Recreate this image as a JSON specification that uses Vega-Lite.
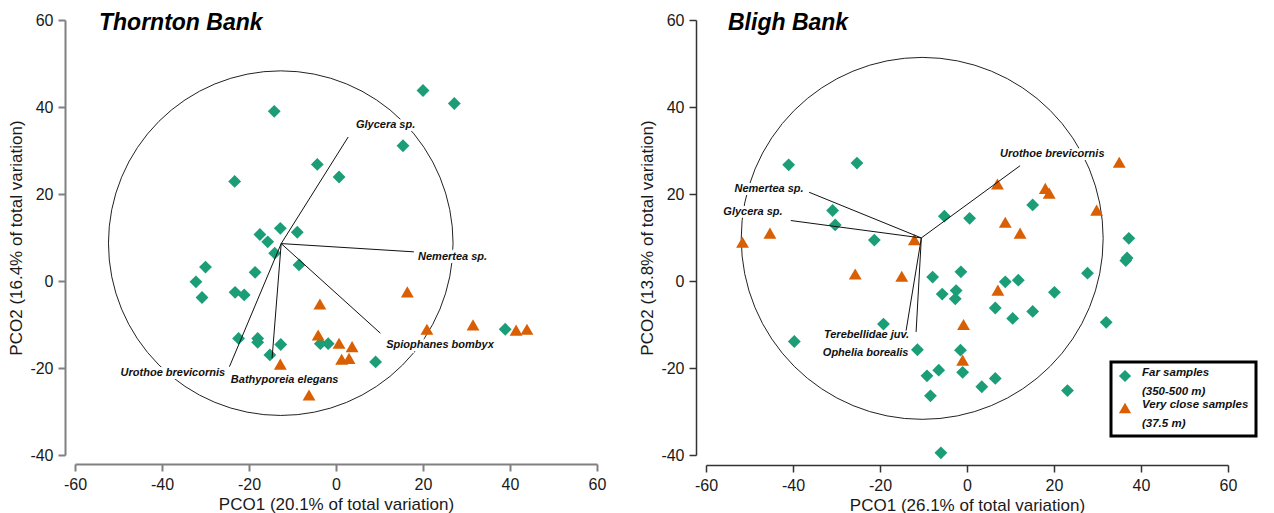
{
  "$schema": "https://vega.github.io/schema/vega-lite/v6.json",
  "background": "white",
  "padding": {"left": 7, "top": 12, "right": 0, "bottom": 0},
  "spacing": 109,
  "bounds": "flush",
  "config": {
    "view": {"stroke": null},
    "font": "Liberation Sans",
    "style": {"guide-label": {"lineHeight": 18.5}},
    "legend": {"strokeWidth": 3},
    "axis": {
      "grid": false,
      "labelFont": "Liberation Sans",
      "labelFontSize": 16,
      "labelColor": "#1a1a1a",
      "labelFlush": false,
      "titleFont": "Liberation Sans",
      "titleFontSize": 17,
      "titleFontWeight": "normal",
      "titleColor": "#1a1a1a",
      "tickSize": 7,
      "labelPadding": 5,
      "titlePadding": 4,
      "labelExpr": "'' + datum.value"
    },
    "title": {
      "font": "Liberation Sans",
      "fontSize": 23,
      "fontStyle": "italic",
      "fontWeight": "bold",
      "color": "#000000",
      "anchor": "start",
      "frame": "group"
    }
  },
  "datasets": {
    "thornton_circle": [{"cx": -12.7, "cy": 8.7}],
    "bligh_circle": [{"cx": -10.3, "cy": 9.8}],
    "thornton_vectors": [
      {"species": "Glycera sp.", "ox": -12.6, "oy": 8.6, "ex": 2.8, "ey": 33.1, "lx": 11.4, "ly": 35.9},
      {"species": "Nemertea sp.", "ox": -12.6, "oy": 8.6, "ex": 17.9, "ey": 6.7, "lx": 26.8, "ly": 5.6},
      {"species": "Spiophanes bombyx", "ox": -12.6, "oy": 8.6, "ex": 10.2, "ey": -12.0, "lx": 23.9, "ly": -14.7},
      {"species": "Urothoe brevicornis", "ox": -12.6, "oy": 8.6, "ex": -24.5, "ey": -19.7, "lx": -37.5, "ly": -21.2},
      {"species": "Bathyporeia elegans", "ox": -12.6, "oy": 8.6, "ex": -14.7, "ey": -17.8, "lx": -11.8, "ly": -22.8}
    ],
    "bligh_vectors": [
      {"species": "Nemertea sp.", "ox": -10.5, "oy": 9.9, "ex": -36.3, "ey": 20.4, "lx": -45.5, "ly": 21.2},
      {"species": "Glycera sp.", "ox": -10.5, "oy": 9.9, "ex": -40.5, "ey": 13.9, "lx": -49.2, "ly": 15.8},
      {"species": "Terebellidae juv.", "ox": -10.5, "oy": 9.9, "ex": -14.0, "ey": -11.4, "lx": -23.1, "ly": -12.3},
      {"species": "Ophelia borealis", "ox": -10.5, "oy": 9.9, "ex": -11.7, "ey": -11.7, "lx": -23.3, "ly": -16.5},
      {"species": "Urothoe brevicornis", "ox": -10.5, "oy": 9.9, "ex": 12.2, "ey": 26.5, "lx": 19.6, "ly": 29.1}
    ],
    "thornton_points": [
      {"x": -14.2, "y": 39.0, "group": "Far samples (350-500 m)"},
      {"x": -23.3, "y": 22.9, "group": "Far samples (350-500 m)"},
      {"x": -4.3, "y": 26.8, "group": "Far samples (350-500 m)"},
      {"x": 20.0, "y": 43.8, "group": "Far samples (350-500 m)"},
      {"x": 27.2, "y": 40.8, "group": "Far samples (350-500 m)"},
      {"x": 15.4, "y": 31.1, "group": "Far samples (350-500 m)"},
      {"x": 0.7, "y": 23.9, "group": "Far samples (350-500 m)"},
      {"x": -12.8, "y": 12.1, "group": "Far samples (350-500 m)"},
      {"x": -8.9, "y": 11.2, "group": "Far samples (350-500 m)"},
      {"x": -17.5, "y": 10.7, "group": "Far samples (350-500 m)"},
      {"x": -15.7, "y": 9.0, "group": "Far samples (350-500 m)"},
      {"x": -14.1, "y": 6.4, "group": "Far samples (350-500 m)"},
      {"x": -8.5, "y": 3.7, "group": "Far samples (350-500 m)"},
      {"x": -30.0, "y": 3.2, "group": "Far samples (350-500 m)"},
      {"x": -32.2, "y": -0.2, "group": "Far samples (350-500 m)"},
      {"x": -30.8, "y": -3.8, "group": "Far samples (350-500 m)"},
      {"x": -18.6, "y": 2.0, "group": "Far samples (350-500 m)"},
      {"x": -23.2, "y": -2.6, "group": "Far samples (350-500 m)"},
      {"x": -21.1, "y": -3.2, "group": "Far samples (350-500 m)"},
      {"x": -22.4, "y": -13.2, "group": "Far samples (350-500 m)"},
      {"x": -18.0, "y": -13.2, "group": "Far samples (350-500 m)"},
      {"x": -18.0, "y": -14.1, "group": "Far samples (350-500 m)"},
      {"x": -12.7, "y": -14.6, "group": "Far samples (350-500 m)"},
      {"x": -15.2, "y": -17.0, "group": "Far samples (350-500 m)"},
      {"x": -3.6, "y": -14.4, "group": "Far samples (350-500 m)"},
      {"x": -1.8, "y": -14.4, "group": "Far samples (350-500 m)"},
      {"x": 9.1, "y": -18.6, "group": "Far samples (350-500 m)"},
      {"x": 38.9, "y": -11.1, "group": "Far samples (350-500 m)"},
      {"x": -3.7, "y": -5.3, "group": "Very close samples (37.5 m)"},
      {"x": 16.4, "y": -2.5, "group": "Very close samples (37.5 m)"},
      {"x": -4.1, "y": -12.4, "group": "Very close samples (37.5 m)"},
      {"x": 0.7, "y": -14.3, "group": "Very close samples (37.5 m)"},
      {"x": 3.7, "y": -15.1, "group": "Very close samples (37.5 m)"},
      {"x": 1.3, "y": -18.0, "group": "Very close samples (37.5 m)"},
      {"x": 3.0, "y": -17.8, "group": "Very close samples (37.5 m)"},
      {"x": -12.8, "y": -19.1, "group": "Very close samples (37.5 m)"},
      {"x": -6.2, "y": -26.2, "group": "Very close samples (37.5 m)"},
      {"x": 20.9, "y": -11.1, "group": "Very close samples (37.5 m)"},
      {"x": 31.5, "y": -10.1, "group": "Very close samples (37.5 m)"},
      {"x": 41.4, "y": -11.3, "group": "Very close samples (37.5 m)"},
      {"x": 43.9, "y": -11.1, "group": "Very close samples (37.5 m)"}
    ],
    "bligh_points": [
      {"x": -41.0, "y": 26.7, "group": "Far samples (350-500 m)"},
      {"x": -25.3, "y": 27.1, "group": "Far samples (350-500 m)"},
      {"x": -30.9, "y": 16.2, "group": "Far samples (350-500 m)"},
      {"x": -30.3, "y": 12.9, "group": "Far samples (350-500 m)"},
      {"x": -21.3, "y": 9.4, "group": "Far samples (350-500 m)"},
      {"x": -5.2, "y": 14.9, "group": "Far samples (350-500 m)"},
      {"x": 0.6, "y": 14.4, "group": "Far samples (350-500 m)"},
      {"x": -7.9, "y": 0.9, "group": "Far samples (350-500 m)"},
      {"x": -1.4, "y": 2.1, "group": "Far samples (350-500 m)"},
      {"x": -5.7, "y": -3.0, "group": "Far samples (350-500 m)"},
      {"x": -2.5, "y": -2.2, "group": "Far samples (350-500 m)"},
      {"x": -2.7, "y": -4.1, "group": "Far samples (350-500 m)"},
      {"x": 6.5, "y": -6.2, "group": "Far samples (350-500 m)"},
      {"x": -19.2, "y": -9.9, "group": "Far samples (350-500 m)"},
      {"x": -39.7, "y": -13.9, "group": "Far samples (350-500 m)"},
      {"x": -11.4, "y": -15.8, "group": "Far samples (350-500 m)"},
      {"x": -1.5, "y": -15.9, "group": "Far samples (350-500 m)"},
      {"x": -9.2, "y": -21.8, "group": "Far samples (350-500 m)"},
      {"x": -6.5, "y": -20.5, "group": "Far samples (350-500 m)"},
      {"x": -1.0, "y": -21.0, "group": "Far samples (350-500 m)"},
      {"x": 3.4, "y": -24.3, "group": "Far samples (350-500 m)"},
      {"x": -8.4, "y": -26.4, "group": "Far samples (350-500 m)"},
      {"x": 6.5, "y": -22.4, "group": "Far samples (350-500 m)"},
      {"x": 15.1, "y": 17.5, "group": "Far samples (350-500 m)"},
      {"x": 37.2, "y": 9.8, "group": "Far samples (350-500 m)"},
      {"x": 36.5, "y": 4.7, "group": "Far samples (350-500 m)"},
      {"x": 36.8, "y": 5.3, "group": "Far samples (350-500 m)"},
      {"x": 27.7, "y": 1.8, "group": "Far samples (350-500 m)"},
      {"x": 20.1, "y": -2.6, "group": "Far samples (350-500 m)"},
      {"x": 32.0, "y": -9.5, "group": "Far samples (350-500 m)"},
      {"x": 8.8, "y": -0.2, "group": "Far samples (350-500 m)"},
      {"x": 11.8, "y": 0.2, "group": "Far samples (350-500 m)"},
      {"x": 10.5, "y": -8.6, "group": "Far samples (350-500 m)"},
      {"x": 15.1, "y": -7.0, "group": "Far samples (350-500 m)"},
      {"x": 23.1, "y": -25.2, "group": "Far samples (350-500 m)"},
      {"x": -6.0, "y": -39.5, "group": "Far samples (350-500 m)"},
      {"x": -51.6, "y": 8.9, "group": "Very close samples (37.5 m)"},
      {"x": -45.3, "y": 11.0, "group": "Very close samples (37.5 m)"},
      {"x": -12.1, "y": 9.5, "group": "Very close samples (37.5 m)"},
      {"x": -25.7, "y": 1.6, "group": "Very close samples (37.5 m)"},
      {"x": -15.0, "y": 1.1, "group": "Very close samples (37.5 m)"},
      {"x": 7.0, "y": 22.3, "group": "Very close samples (37.5 m)"},
      {"x": 18.0, "y": 21.3, "group": "Very close samples (37.5 m)"},
      {"x": 18.9, "y": 20.2, "group": "Very close samples (37.5 m)"},
      {"x": 35.0, "y": 27.3, "group": "Very close samples (37.5 m)"},
      {"x": 29.8, "y": 16.3, "group": "Very close samples (37.5 m)"},
      {"x": 8.8, "y": 13.5, "group": "Very close samples (37.5 m)"},
      {"x": 12.2, "y": 11.0, "group": "Very close samples (37.5 m)"},
      {"x": 7.1, "y": -2.1, "group": "Very close samples (37.5 m)"},
      {"x": -0.8, "y": -10.0, "group": "Very close samples (37.5 m)"},
      {"x": -1.0, "y": -18.2, "group": "Very close samples (37.5 m)"}
    ]
  },
  "resolve": {
    "scale": {"x": "independent", "y": "independent", "color": "independent", "shape": "independent"},
    "legend": {"color": "independent", "shape": "independent"}
  },
  "hconcat": [
    {
      "width": 522,
      "height": 435,
      "title": {"text": "Thornton Bank", "offset": -23, "dx": 24},
      "layer": [
        {
          "data": {"name": "thornton_circle"},
          "mark": {"type": "point", "shape": "circle", "filled": false, "size": 118750, "stroke": "#222222", "strokeWidth": 1, "opacity": 1},
          "encoding": {
            "x": {"field": "cx", "type": "quantitative", "title": "PCO1 (20.1% of total variation)",
                  "scale": {"domain": [-60, 60], "nice": false, "zero": false},
                  "axis": {"values": [-60, -40, -20, 0, 20, 40, 60], "offset": 9, "domainColor": "#808080", "tickColor": "#808080", "domainWidth": 2, "tickWidth": 2}},
            "y": {"field": "cy", "type": "quantitative", "title": "PCO2 (16.4% of total variation)",
                  "scale": {"domain": [-40, 60], "nice": false, "zero": false},
                  "axis": {"values": [-40, -20, 0, 20, 40, 60], "offset": 10, "domainColor": "#808080", "tickColor": "#808080", "domainWidth": 2, "tickWidth": 2}}
          }
        },
        {
          "data": {"name": "thornton_vectors"},
          "mark": {"type": "text", "font": "Liberation Sans", "fontSize": 11, "fontStyle": "italic", "fontWeight": "bold", "stroke": "white", "strokeWidth": 6, "fill": "white", "align": "center", "baseline": "middle"},
          "encoding": {
            "x": {"field": "lx", "type": "quantitative", "title": "PCO1 (20.1% of total variation)"},
            "y": {"field": "ly", "type": "quantitative", "title": "PCO2 (16.4% of total variation)"},
            "text": {"field": "species"}
          }
        },
        {
          "data": {"name": "thornton_points"},
          "mark": {"type": "point", "filled": true, "size": 165, "opacity": 1},
          "encoding": {
            "x": {"field": "x", "type": "quantitative", "title": "PCO1 (20.1% of total variation)"},
            "y": {"field": "y", "type": "quantitative", "title": "PCO2 (16.4% of total variation)"},
            "color": {"field": "group", "type": "nominal",
                      "scale": {"domain": ["Far samples (350-500 m)", "Very close samples (37.5 m)"], "range": ["#1b9e77", "#d95f02"]},
                      "legend": null},
            "shape": {"field": "group", "type": "nominal",
                      "scale": {"domain": ["Far samples (350-500 m)", "Very close samples (37.5 m)"], "range": ["diamond", "triangle-up"]},
                      "legend": null}
          }
        },
        {
          "data": {"name": "thornton_vectors"},
          "mark": {"type": "rule", "color": "#111111", "strokeWidth": 1},
          "encoding": {
            "x": {"field": "ox", "type": "quantitative", "title": "PCO1 (20.1% of total variation)"},
            "y": {"field": "oy", "type": "quantitative", "title": "PCO2 (16.4% of total variation)"},
            "x2": {"field": "ex"},
            "y2": {"field": "ey"}
          }
        },
        {
          "data": {"name": "thornton_vectors"},
          "mark": {"type": "text", "font": "Liberation Sans", "fontSize": 11, "fontStyle": "italic", "fontWeight": "bold", "color": "#111111", "align": "center", "baseline": "middle"},
          "encoding": {
            "x": {"field": "lx", "type": "quantitative", "title": "PCO1 (20.1% of total variation)"},
            "y": {"field": "ly", "type": "quantitative", "title": "PCO2 (16.4% of total variation)"},
            "text": {"field": "species"}
          }
        }
      ]
    },
    {
      "width": 522,
      "height": 435,
      "title": {"text": "Bligh Bank", "offset": -23, "dx": 22},
      "layer": [
        {
          "data": {"name": "bligh_circle"},
          "mark": {"type": "point", "shape": "circle", "filled": false, "size": 131000, "stroke": "#222222", "strokeWidth": 1, "opacity": 1},
          "encoding": {
            "x": {"field": "cx", "type": "quantitative", "title": "PCO1 (26.1% of total variation)",
                  "scale": {"domain": [-60, 60], "nice": false, "zero": false},
                  "axis": {"values": [-60, -40, -20, 0, 20, 40, 60], "offset": 10, "domainColor": "#333333", "tickColor": "#333333", "domainWidth": 1.5, "tickWidth": 1.5}},
            "y": {"field": "cy", "type": "quantitative", "title": "PCO2 (13.8% of total variation)",
                  "scale": {"domain": [-40, 60], "nice": false, "zero": false},
                  "axis": {"values": [-40, -20, 0, 20, 40, 60], "offset": 10, "domainColor": "#333333", "tickColor": "#333333", "domainWidth": 1.5, "tickWidth": 1.5}}
          }
        },
        {
          "data": {"name": "bligh_vectors"},
          "mark": {"type": "text", "font": "Liberation Sans", "fontSize": 11, "fontStyle": "italic", "fontWeight": "bold", "stroke": "white", "strokeWidth": 6, "fill": "white", "align": "center", "baseline": "middle"},
          "encoding": {
            "x": {"field": "lx", "type": "quantitative", "title": "PCO1 (26.1% of total variation)"},
            "y": {"field": "ly", "type": "quantitative", "title": "PCO2 (13.8% of total variation)"},
            "text": {"field": "species"}
          }
        },
        {
          "data": {"name": "bligh_points"},
          "mark": {"type": "point", "filled": true, "size": 165, "opacity": 1},
          "encoding": {
            "x": {"field": "x", "type": "quantitative", "title": "PCO1 (26.1% of total variation)"},
            "y": {"field": "y", "type": "quantitative", "title": "PCO2 (13.8% of total variation)"},
            "color": {"field": "group", "type": "nominal",
                      "scale": {"domain": ["Far samples (350-500 m)", "Very close samples (37.5 m)"], "range": ["#1b9e77", "#d95f02"]},
                      "legend": {"orient": "none", "legendX": 405, "legendY": 342, "title": null,
                                 "labelExpr": "split(replace(datum.label, ' (', '|('), '|')",
                                 "labelFont": "Liberation Sans", "labelFontSize": 11.5, "labelFontStyle": "italic", "labelFontWeight": "bold", "labelColor": "#111111",
                                 "labelBaseline": "alphabetic", "labelOffset": 10,
                                 "symbolSize": 150, "strokeColor": "#000000", "fillColor": "white", "padding": 7, "rowPadding": 2}},
            "shape": {"field": "group", "type": "nominal",
                      "scale": {"domain": ["Far samples (350-500 m)", "Very close samples (37.5 m)"], "range": ["diamond", "triangle-up"]},
                      "legend": {"orient": "none", "legendX": 405, "legendY": 342, "title": null,
                                 "labelExpr": "split(replace(datum.label, ' (', '|('), '|')",
                                 "labelFont": "Liberation Sans", "labelFontSize": 11.5, "labelFontStyle": "italic", "labelFontWeight": "bold", "labelColor": "#111111",
                                 "labelBaseline": "alphabetic", "labelOffset": 10,
                                 "symbolSize": 150, "strokeColor": "#000000", "fillColor": "white", "padding": 7, "rowPadding": 2}}
          }
        },
        {
          "data": {"name": "bligh_vectors"},
          "mark": {"type": "rule", "color": "#111111", "strokeWidth": 1},
          "encoding": {
            "x": {"field": "ox", "type": "quantitative", "title": "PCO1 (26.1% of total variation)"},
            "y": {"field": "oy", "type": "quantitative", "title": "PCO2 (13.8% of total variation)"},
            "x2": {"field": "ex"},
            "y2": {"field": "ey"}
          }
        },
        {
          "data": {"name": "bligh_vectors"},
          "mark": {"type": "text", "font": "Liberation Sans", "fontSize": 11, "fontStyle": "italic", "fontWeight": "bold", "color": "#111111", "align": "center", "baseline": "middle"},
          "encoding": {
            "x": {"field": "lx", "type": "quantitative", "title": "PCO1 (26.1% of total variation)"},
            "y": {"field": "ly", "type": "quantitative", "title": "PCO2 (13.8% of total variation)"},
            "text": {"field": "species"}
          }
        }
      ]
    }
  ]
}
